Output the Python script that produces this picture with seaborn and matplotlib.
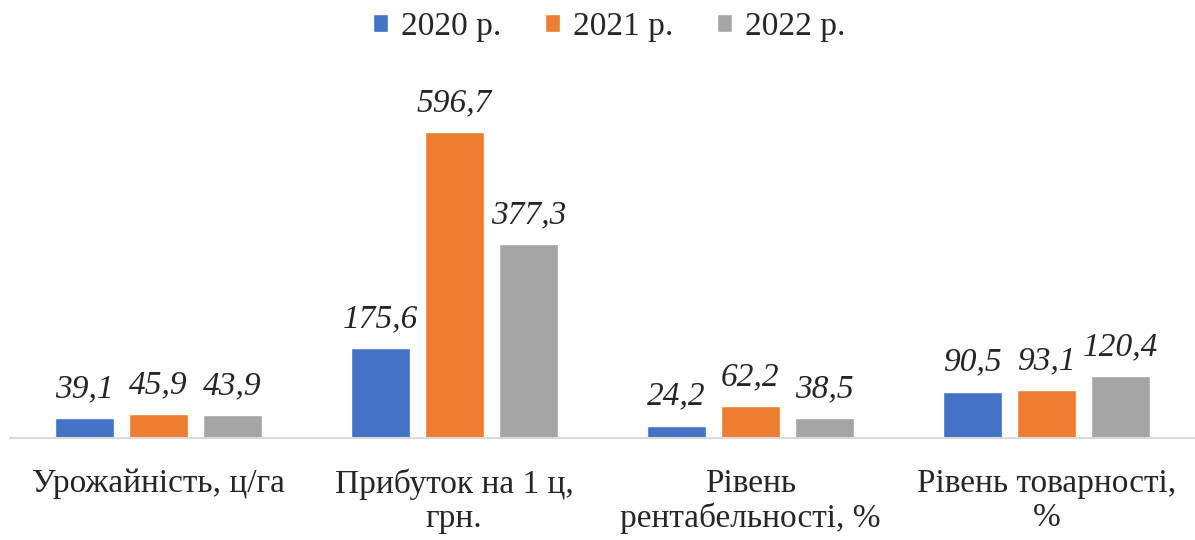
import pandas as pd
import matplotlib.pyplot as plt
import seaborn as sns

sns.set_style("white")
plt.rcParams['font.family'] = ['Liberation Serif', 'DejaVu Serif']

# data
categories = ["Урожайність, ц/га", "Прибуток на 1 ц,\nгрн.",
              "Рівень\nрентабельності, %", "Рівень товарності,\n%"]
years = ["2020 р.", "2021 р.", "2022 р."]
v2020 = [39.1, 175.6, 24.2, 90.5]
v2021 = [45.9, 596.7, 62.2, 93.1]
v2022 = [43.9, 377.3, 38.5, 120.4]
colors = ["#4472C4", "#ED7D31", "#A5A5A5"]

df = pd.DataFrame({
    "cat": categories * 3,
    "year": [years[0]] * 4 + [years[1]] * 4 + [years[2]] * 4,
    "value": v2020 + v2021 + v2022,
})

fs = 24

fig = plt.figure(figsize=(11.95, 5.40), dpi=100)
ax = fig.add_axes([0.0085, 0.189, 0.991, 0.665])

sns.barplot(data=df, x="cat", y="value", hue="year", palette=colors,
            width=0.75, gap=0.2, ax=ax, saturation=1, legend=True)

for cont in ax.containers:
    ax.bar_label(cont, labels=[f"{v:.1f}".replace(".", ",") for v in cont.datavalues],
                 padding=10, fontsize=fs, fontstyle="italic")

ax.set_ylim(0, 700)
ax.set_xlim(-0.5, 3.5)
ax.set_xlabel("")
ax.set_ylabel("")
ax.set_yticks([])
ax.tick_params(axis="x", length=0, pad=22, labelsize=fs)
for lbl in ax.get_xticklabels():
    lbl.set_linespacing(1.15)
for s in ["top", "right", "left"]:
    ax.spines[s].set_visible(False)
ax.spines["bottom"].set_color("#D9D9D9")
ax.spines["bottom"].set_linewidth(1.5)

handles, labels = ax.get_legend_handles_labels()
ax.legend_.remove()
fig.legend(handles, labels, loc="upper center", bbox_to_anchor=(0.51, 1.035), ncol=3,
           frameon=False, fontsize=fs, handlelength=0.45, handleheight=0.45,
           handletextpad=0.4, columnspacing=1.3)

fig.savefig("out.png", dpi=100)
